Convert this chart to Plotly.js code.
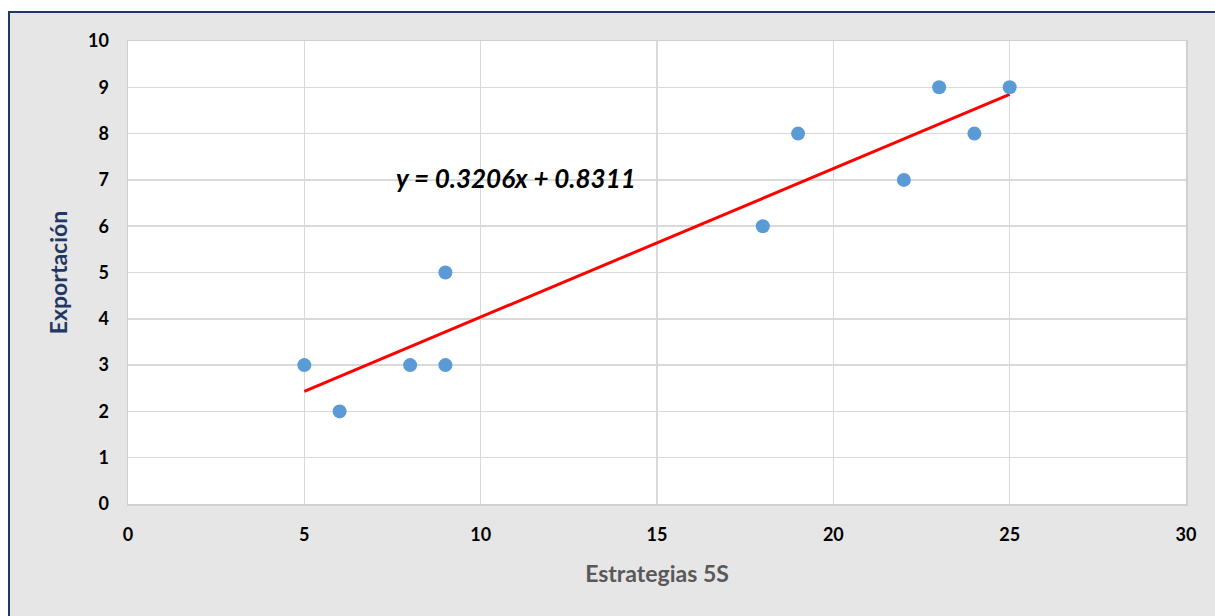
<!DOCTYPE html>
<html><head><meta charset="utf-8">
<script src="https://cdn.plot.ly/plotly-3.0.1.min.js"></script>
<style>
html,body{margin:0;padding:0;background:#fff;width:1215px;height:616px;overflow:hidden}
#frame{position:absolute;left:8px;top:11px;width:1207px;height:605px;border-left:2px solid #1f3864;border-top:2px solid #1f3864;background:#e7e6e6}
#chart{width:1205px;height:603px}
</style></head>
<body><div id="frame"><div id="chart"></div></div>
<script>
const estrategias = [5, 6, 8, 9, 9, 18, 19, 22, 23, 24, 25];
const exportacion = [3, 2, 3, 3, 5, 6, 8, 7, 9, 8, 9];
const slope = 0.3206;
const intercept = 0.8311;
const trendX = [Math.min(...estrategias), Math.max(...estrategias)];
const trendY = trendX.map(x => slope * x + intercept);
const xTicks = [0, 5, 10, 15, 20, 25, 30];
const yTicks = [0,1,2,3,4,5,6,7,8,9,10];
const equation = 'y = 0.3206x + 0.8311';

const F = 'Lato, "Open Sans", sans-serif';
const data = [
  {x: trendX, y: trendY, mode: 'lines', line: {color: '#ff0000', width: 3}, hoverinfo: 'skip'},
  {x: estrategias, y: exportacion, mode: 'markers', marker: {color: '#5b9bd5', size: 14}}
];
const layout = {
  width: 1205, height: 603,
  margin: {l: 118, r: 29, t: 28, b: 112},
  paper_bgcolor: '#e7e6e6', plot_bgcolor: '#ffffff',
  showlegend: false,
  font: {family: F, color: '#000'},
  xaxis: {range: [0, 30], tickvals: xTicks, ticktext: xTicks.map(String),
    showgrid: true, gridcolor: '#d9d9d9', gridwidth: 1.5, zeroline: false,
    showline: true, linecolor: '#d0d0d0', linewidth: 1.5, mirror: true,
    ticks: '', ticklabelstandoff: 14,
    tickfont: {family: F, size: 18, color: '#000', weight: 'bold'},
    title: {text: '<b>Estrategias 5S</b>', font: {family: F, size: 23, color: '#595959'}, standoff: 22}},
  yaxis: {range: [0, 10], tickvals: yTicks, ticktext: yTicks.map(String),
    showgrid: true, gridcolor: '#d9d9d9', gridwidth: 1.5, zeroline: false,
    showline: true, linecolor: '#d0d0d0', linewidth: 1.5, mirror: true,
    ticks: '', ticklabelstandoff: 14,
    tickfont: {family: F, size: 18, color: '#000', weight: 'bold'},
    title: {text: '<b>Exportación</b>', font: {family: F, size: 23, color: '#1f3864'}, standoff: 14}},
  annotations: [{x: 11.0, y: 7.05, xref: 'x', yref: 'y', text: '<b><i>' + equation + '</i></b>',
    showarrow: false, font: {family: F, size: 26, color: '#000'}}]
};
Plotly.newPlot('chart', data, layout, {displayModeBar: false, staticPlot: true});
</script></body></html>
